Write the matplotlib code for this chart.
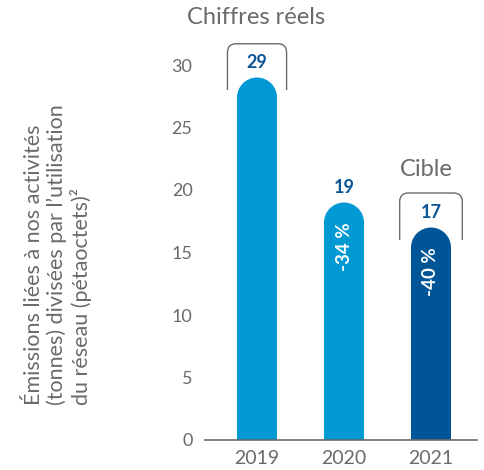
import matplotlib
matplotlib.use("Agg")
import matplotlib.pyplot as plt
from matplotlib.patches import Ellipse
from matplotlib.path import Path
from matplotlib.patches import PathPatch

years = ["2019", "2020", "2021"]
values = [29, 19, 17]
pct_labels = [None, "-34 %", "-40 %"]
colors = ["#0099d4", "#0099d4", "#005596"]
yticks = [0, 5, 10, 15, 20, 25, 30]

GRAY = "#6a6a6a"
DARK = "#0b5595"
FONT = "Lato"

fig = plt.figure(figsize=(4.84, 4.70), dpi=100)
ax = fig.add_axes([205/484, 30/470, 272/484, 400/470])
ax.set_ylim(0, 32)
ax.set_xlim(-0.598, 2.529)

x = list(range(len(years)))
w = 0.46
cap = 1.6  # vertical radius in data units (~20px)
for xi, v, c in zip(x, values, colors):
    ax.bar(xi, v - cap, width=w, color=c, align="center", linewidth=0)
    ax.add_patch(Ellipse((xi, v - cap), w, 2 * cap, color=c, linewidth=0))

for xi, v in zip(x, values):
    ax.text(xi, v + 1.2, str(v), ha="center", va="center", color=DARK,
            fontsize=13, fontweight="bold", family=FONT)

for xi, v, p in zip(x, values, pct_labels):
    if p:
        ax.text(xi, v - 3.5, p, ha="center", va="center", color="white",
                fontsize=13.5, fontweight="bold", rotation=90, family=FONT)

def bracket(xc, half, ybot, ytop, rx=0.1, ry=0.7):
    x0, x1 = xc - half, xc + half
    verts = [(x0, ybot), (x0, ytop - ry), (x0, ytop), (x0 + rx, ytop),
             (x1 - rx, ytop), (x1, ytop), (x1, ytop - ry), (x1, ybot)]
    codes = [Path.MOVETO, Path.LINETO, Path.CURVE3, Path.CURVE3,
             Path.LINETO, Path.CURVE3, Path.CURVE3, Path.LINETO]
    ax.add_patch(PathPatch(Path(verts, codes), fill=False, edgecolor=GRAY,
                           linewidth=1.0, clip_on=False))

bracket(0, 0.34, 28.0, 31.7)
bracket(2, 0.36, 16.0, 19.76)

ax.text(-0.01, 33.8, "Chiffres réels", ha="center", va="center", color=GRAY,
        fontsize=17, family=FONT, clip_on=False)
ax.text(1.95, 21.6, "Cible", ha="center", va="center", color=GRAY,
        fontsize=17, family=FONT)

ax.set_yticks(yticks)
ax.set_yticklabels([str(t) for t in yticks], family=FONT)
ax.set_xticks(x)
ax.set_xticklabels(years, family=FONT, fontsize=14)
ax.tick_params(axis="both", length=0, colors=GRAY)
ax.tick_params(axis="y", pad=9, labelsize=13)
ax.tick_params(axis="x", pad=7)
for s in ["left", "right", "top"]:
    ax.spines[s].set_visible(False)
ax.spines["bottom"].set_color(GRAY)
ax.spines["bottom"].set_linewidth(1.2)

fig.text(58/484, 1 - 255/470,
         "Émissions liées à nos activités\n(tonnes) divisées par l’utilisation\ndu réseau (pétaoctets)²",
         rotation=90, ha="center", va="center", multialignment="left",
         color=GRAY, fontsize=15.5, family=FONT, linespacing=1.15)

fig.savefig("out.png", dpi=100)
